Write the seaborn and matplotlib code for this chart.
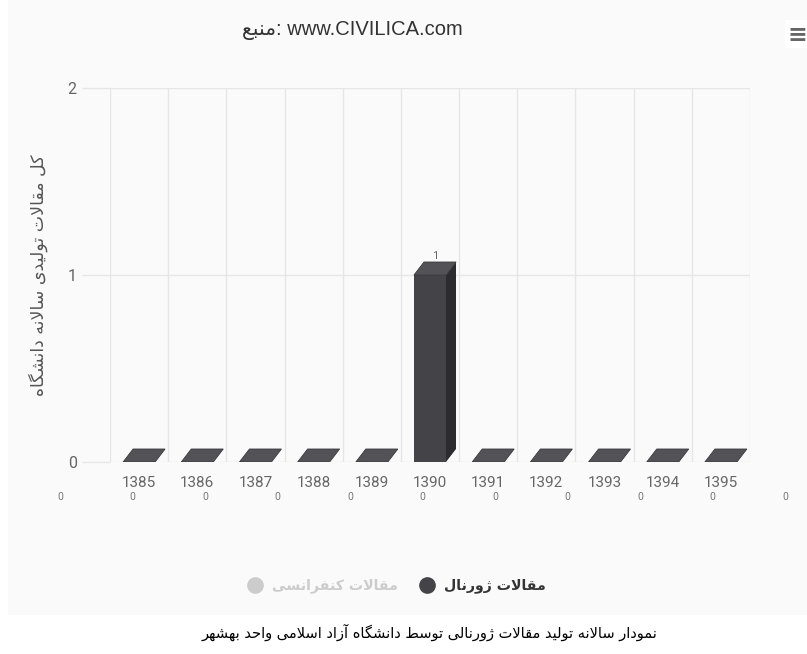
import numpy as np
import pandas as pd
import matplotlib
matplotlib.use("Agg")
import matplotlib.pyplot as plt
from matplotlib.patches import Polygon, Rectangle
from matplotlib.lines import Line2D
import seaborn as sns

# ---------------- data ----------------
years = ["1385", "1386", "1387", "1388", "1389", "1390",
         "1391", "1392", "1393", "1394", "1395"]
journal = [0, 0, 0, 0, 0, 1, 0, 0, 0, 0, 0]
conference = [0, 0, 0, 0, 0, 0, 0, 0, 0, 0, 0]
y_ticks = [0, 1, 2]

title_fa = "منبع"
title_en = ": www.CIVILICA.com"
ylabel_fa = "کل مقالات تولیدی سالانه دانشگاه"
legend_journal = "مقالات ژورنال"
legend_conf = "مقالات کنفرانسی"
caption_fa = "نمودار سالانه تولید مقالات ژورنالی توسط دانشگاه آزاد اسلامی واحد بهشهر"

# ---------------- minimal Persian shaping ----------------
FORMS = {
    'ا': ('\uFE8D', '\uFE8E', None, None),
    'آ': ('\uFE81', '\uFE82', None, None),
    'ب': ('\uFE8F', '\uFE90', '\uFE91', '\uFE92'),
    'ت': ('\uFE95', '\uFE96', '\uFE97', '\uFE98'),
    'ح': ('\uFEA1', '\uFEA2', '\uFEA3', '\uFEA4'),
    'د': ('\uFEA9', '\uFEAA', None, None),
    'ر': ('\uFEAD', '\uFEAE', None, None),
    'ز': ('\uFEAF', '\uFEB0', None, None),
    'ژ': ('\uFB8A', '\uFB8B', None, None),
    'س': ('\uFEB1', '\uFEB2', '\uFEB3', '\uFEB4'),
    'ش': ('\uFEB5', '\uFEB6', '\uFEB7', '\uFEB8'),
    'ط': ('\uFEC1', '\uFEC2', '\uFEC3', '\uFEC4'),
    'ع': ('\uFEC9', '\uFECA', '\uFECB', '\uFECC'),
    'ف': ('\uFED1', '\uFED2', '\uFED3', '\uFED4'),
    'ق': ('\uFED5', '\uFED6', '\uFED7', '\uFED8'),
    'ک': ('\uFB8E', '\uFB8F', '\uFB90', '\uFB91'),
    'گ': ('\uFB92', '\uFB93', '\uFB94', '\uFB95'),
    'ل': ('\uFEDD', '\uFEDE', '\uFEDF', '\uFEE0'),
    'م': ('\uFEE1', '\uFEE2', '\uFEE3', '\uFEE4'),
    'ن': ('\uFEE5', '\uFEE6', '\uFEE7', '\uFEE8'),
    'ه': ('\uFEE9', '\uFEEA', '\uFEEB', '\uFEEC'),
    'و': ('\uFEED', '\uFEEE', None, None),
    'ی': ('\uFBFC', '\uFBFD', '\uFBFE', '\uFBFF'),
    'ي': ('\uFEF1', '\uFEF2', '\uFEF3', '\uFEF4'),
}
LAM_ALEF = {'ا': ('\uFEFB', '\uFEFC'), 'آ': ('\uFEF5', '\uFEF6')}


def shape(text):
    out, i, n = [], 0, len(text)
    prev_joins = False
    while i < n:
        c = text[i]
        if c not in FORMS:
            out.append(c)
            prev_joins = False
            i += 1
            continue
        if c == 'ل' and i + 1 < n and text[i + 1] in LAM_ALEF:
            iso, fin = LAM_ALEF[text[i + 1]]
            out.append(fin if prev_joins else iso)
            prev_joins = False
            i += 2
            continue
        nxt = text[i + 1] if i + 1 < n else None
        f = FORMS[c]
        can_next = f[2] is not None and nxt is not None and nxt in FORMS
        if prev_joins and can_next:
            g = f[3]
        elif prev_joins:
            g = f[1]
        elif can_next:
            g = f[2]
        else:
            g = f[0]
        out.append(g)
        prev_joins = can_next
        i += 1
    return ''.join(out)


def rtl(s):
    return shape(s)[::-1]


# ---------------- style ----------------
sns.set_theme(style="white")
plt.rcParams['font.family'] = ['Roboto', 'DejaVu Sans']

W, H = 807, 654
fig = plt.figure(figsize=(W / 100, H / 100), dpi=100, facecolor="white")

# light chart background
fig.patches.append(Rectangle((8 / W, 1 - 615 / H), 1 - 8 / W, 615 / H,
                             transform=fig.transFigure, facecolor="#fafafa",
                             edgecolor="none", zorder=-5))

ax_l, ax_r = 110, 750
ax_top, ax_bot = 88, 462
ax = fig.add_axes([ax_l / W, 1 - ax_bot / H, (ax_r - ax_l) / W, (ax_bot - ax_top) / H])
ax.set_facecolor("none")

df = pd.DataFrame({"year": years, "value": journal})
sns.barplot(data=df, x="year", y="value", order=years, color="#434348",
            saturation=1, width=0.55, ax=ax, zorder=3, edgecolor="none")

ax.set_xlim(-0.5, len(years) - 0.5)
ax.set_ylim(0, 2)
ax.set_yticks(y_ticks)
ax.set_yticklabels([str(v) for v in y_ticks])
ax.set_xticks(range(len(years)))
ax.set_xticklabels(years)
ax.set_xticks(np.arange(-0.5, len(years), 1), minor=True)
ax.grid(which="minor", axis="x", color="#e6e6e6", linewidth=1, zorder=0)
ax.grid(which="major", axis="y", color="#e6e6e6", linewidth=1, zorder=0)
ax.grid(which="major", axis="x", visible=False)
ax.tick_params(axis="y", which="major", length=20, width=1, color="#e6e6e6",
               labelcolor="#666666", labelsize=11.5, pad=4, left=True)
ax.tick_params(axis="x", which="both", length=0, labelcolor="#666666",
               labelsize=11, pad=10)
for s in ax.spines.values():
    s.set_visible(False)
ax.set_xlabel("")
ax.set_ylabel(rtl(ylabel_fa), family=['DejaVu Sans'], fontsize=12.5,
              color="#555555", labelpad=14)

# pseudo-3D faces computed from each seaborn bar
dx, dy = 10, 13  # depth offset in pixels (up-right)
inv = ax.transData.inverted()
for p in list(ax.patches):
    x0, y0 = p.get_x(), p.get_y()
    x1, y1 = x0 + p.get_width(), y0 + p.get_height()
    (X0, Y0), (X1, Y1) = ax.transData.transform([(x0, y0), (x1, y1)])
    top = [(X0, Y1), (X1, Y1), (X1 + dx, Y1 + dy), (X0 + dx, Y1 + dy)]
    side = [(X1, Y0), (X1 + dx, Y0 + dy), (X1 + dx, Y1 + dy), (X1, Y1)]
    ax.add_patch(Polygon(inv.transform(side), closed=True, facecolor="#2c2c30",
                         edgecolor="none", zorder=3))
    ax.add_patch(Polygon(inv.transform(top), closed=True, facecolor="#525257",
                         edgecolor="#3a3a3e", linewidth=0.6, zorder=4))

# data label on non-zero bar
for i, v in enumerate(journal):
    if v > 0:
        ax.annotate(str(v), (i, v), xytext=(4, 10), textcoords="offset points",
                    ha="center", va="bottom", fontsize=8, color="#666666", zorder=5)

# row of zero labels (as in the reference)
for j, v in enumerate(conference):
    fx = (60 + j * 72.5) / W
    fig.text(fx, 1 - 497 / H, str(v), ha="center", va="center",
             fontsize=7.5, color="#777777")

# title
fig.text(352 / W, 1 - 31 / H, rtl(title_fa) + title_en, ha="center", va="center",
         fontsize=14.5, color="#333333", family=['Liberation Sans', 'DejaVu Sans'])

# hamburger menu
fig.patches.append(Rectangle((785 / W, 1 - 48 / H), 22 / W, 28 / H,
                             transform=fig.transFigure, facecolor="white",
                             edgecolor="none", zorder=1))
fig.text(797 / W, 1 - 35 / H, "≡", ha="center", va="center", fontsize=17,
         color="#666666", family=['DejaVu Sans'], fontweight="bold")

# legend
handles = [
    Line2D([], [], marker="o", linestyle="none", markersize=11,
           markerfacecolor="#cccccc", markeredgecolor="#cccccc"),
    Line2D([], [], marker="o", linestyle="none", markersize=11,
           markerfacecolor="#434348", markeredgecolor="#434348"),
]
leg = fig.legend(handles, [rtl(legend_conf), rtl(legend_journal)], ncol=2,
                 markerfirst=True, frameon=False, loc="center",
                 bbox_to_anchor=(397 / W, 1 - 586 / H), handletextpad=0.7,
                 handlelength=1.0, columnspacing=1.6,
                 prop={"family": ["DejaVu Sans"], "size": 10.2, "weight": "bold"})
leg.get_texts()[0].set_color("#cccccc")
leg.get_texts()[1].set_color("#333333")

# caption below chart
fig.text(430 / W, 1 - 632 / H, rtl(caption_fa), ha="center", va="center",
         fontsize=10.5, color="black", family=['DejaVu Sans'])

fig.savefig("out.png", dpi=100, facecolor="white")
